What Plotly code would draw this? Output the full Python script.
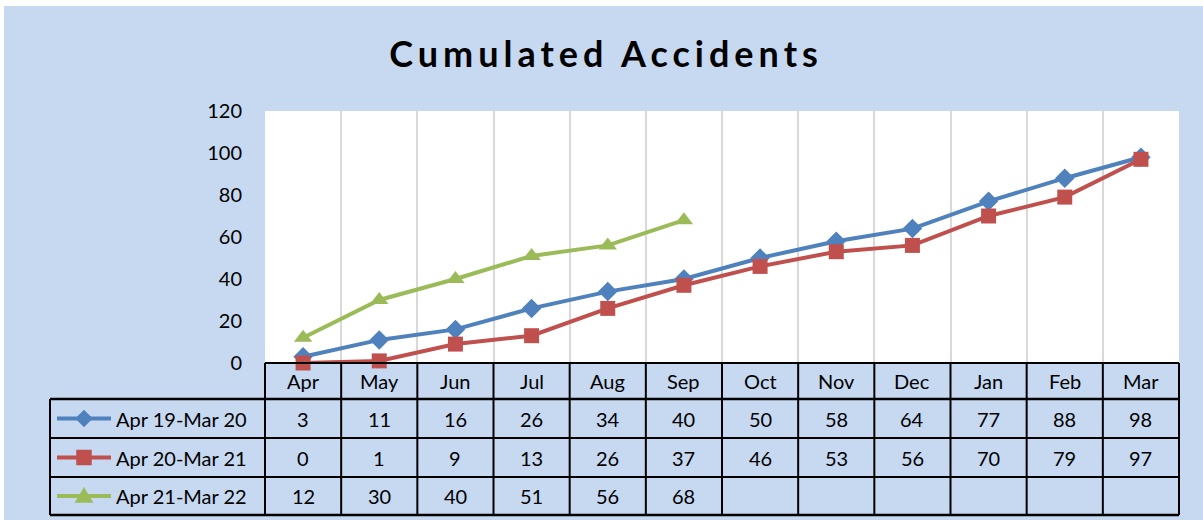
import plotly.graph_objects as go

months = ["Apr", "May", "Jun", "Jul", "Aug", "Sep", "Oct", "Nov", "Dec", "Jan", "Feb", "Mar"]
series_names = ["Apr 19-Mar 20", "Apr 20-Mar 21", "Apr 21-Mar 22"]
s1 = [3, 11, 16, 26, 34, 40, 50, 58, 64, 77, 88, 98]
s2 = [0, 1, 9, 13, 26, 37, 46, 53, 56, 70, 79, 97]
s3 = [12, 30, 40, 51, 56, 68, None, None, None, None, None, None]
y_ticks = [0, 20, 40, 60, 80, 100, 120]
title_text = "Cumulated Accidents"

colors = ["#4F81BD", "#C0504D", "#9BBB59"]
symbols = ["diamond", "square", "triangle-up"]
msizes = [15, 15, 16]
series = [s1, s2, s3]

FW, FH = 1203, 520
L, R, T, B = 265, 1179, 111, 363
W, H = R - L, B - T
FONT = "Lato"
TS = 20

def px_x(px):
    return (px - L) / W

def px_y(py):
    return (B - py) / H

fig = go.Figure()
for name, vals, c, sym, ms in zip(series_names, series, colors, symbols, msizes):
    fig.add_trace(go.Scatter(
        x=months, y=vals, name=name, mode="lines+markers",
        line=dict(color=c, width=4), marker=dict(symbol=sym, size=ms, color=c),
        cliponaxis=False, showlegend=False, connectgaps=False))

shapes = []
# background with thin white border
shapes.append(dict(type="rect", xref="paper", yref="paper", x0=px_x(4), x1=px_x(FW + 5),
                   y0=px_y(6), y1=px_y(FH + 5), fillcolor="#C6D9F1", line_width=0, layer="below"))
# plot area white
shapes.append(dict(type="rect", xref="paper", yref="paper", x0=0, x1=1, y0=0, y1=1,
                   fillcolor="white", line_width=0, layer="below"))

rows = [363, 399, 438, 477, 515]
leg_left = 50
n = len(months)
# horizontal lines
shapes.append(dict(type="line", xref="paper", yref="paper", x0=0, x1=1, y0=px_y(rows[0]), y1=px_y(rows[0]),
                   line=dict(color="black", width=2)))
for i, r in enumerate(rows[1:]):
    shapes.append(dict(type="line", xref="paper", yref="paper", x0=px_x(leg_left), x1=1,
                       y0=px_y(r), y1=px_y(r), line=dict(color="black", width=2.5 if i in (0, 3) else 1.8)))
# vertical lines
shapes.append(dict(type="line", xref="paper", yref="paper", x0=px_x(leg_left), x1=px_x(leg_left),
                   y0=px_y(rows[1]), y1=px_y(rows[-1]), line=dict(color="black", width=2)))
for k in range(n + 1):
    shapes.append(dict(type="line", xref="paper", yref="paper", x0=k / n, x1=k / n,
                       y0=px_y(rows[0]), y1=px_y(rows[-1]), line=dict(color="black", width=2)))

annotations = []
# header months
for i, m in enumerate(months):
    annotations.append(dict(xref="paper", yref="paper", x=(i + 0.5) / n,
                            y=px_y((rows[0] + rows[1]) / 2), text=m, showarrow=False,
                            font=dict(family=FONT, size=TS, color="black"), xanchor="center", yanchor="middle"))


def legend_marker(sym, cx, cy, color):
    # cx, cy in pixels; returns a path shape in paper coords
    if sym == "diamond":
        pts = [(cx, cy - 8.5), (cx + 8.5, cy), (cx, cy + 8.5), (cx - 8.5, cy)]
    elif sym == "square":
        pts = [(cx - 7.5, cy - 7.5), (cx + 7.5, cy - 7.5), (cx + 7.5, cy + 7.5), (cx - 7.5, cy + 7.5)]
    else:
        pts = [(cx, cy - 8.5), (cx + 9, cy + 6.5), (cx - 9, cy + 6.5)]
    path = "M " + " L ".join(f"{px_x(x):.5f},{px_y(y):.5f}" for x, y in pts) + " Z"
    return dict(type="path", xref="paper", yref="paper", path=path, fillcolor=color,
                line=dict(color=color, width=0.5))


# values
for si, vals in enumerate(series):
    ycp = (rows[si + 1] + rows[si + 2]) / 2
    yc = px_y(ycp)
    for i, v in enumerate(vals):
        if v is None:
            continue
        annotations.append(dict(xref="paper", yref="paper", x=(i + 0.5) / n, y=yc, text=str(v),
                                showarrow=False, font=dict(family=FONT, size=TS, color="black"),
                                xanchor="center", yanchor="middle"))
    # legend label
    annotations.append(dict(xref="paper", yref="paper", x=px_x(114), y=yc, text=series_names[si],
                            showarrow=False, font=dict(family=FONT, size=TS, color="black"),
                            xanchor="left", yanchor="middle"))
    # legend key line + marker
    shapes.append(dict(type="line", xref="paper", yref="paper", x0=px_x(57), x1=px_x(111), y0=yc, y1=yc,
                       line=dict(color=colors[si], width=4)))
    shapes.append(legend_marker(symbols[si], 84, ycp, colors[si]))

fig.update_layout(
    width=FW, height=FH,
    margin=dict(l=L, r=FW - R, t=T, b=FH - B, pad=0),
    paper_bgcolor="white", plot_bgcolor="rgba(0,0,0,0)",
    title=dict(text='<b><span style="letter-spacing:5px">' + title_text + '</span></b>',
               x=606 / FW, xanchor="center", y=1 - 54 / FH, yanchor="middle",
               xref="container", yref="container",
               font=dict(family=FONT, size=36, color="black")),
    xaxis=dict(type="category", categoryarray=months, range=[-0.5, n - 0.5], showticklabels=False,
               showgrid=True, gridcolor="#D9D9D9", gridwidth=2, tickson="boundaries", ticks="",
               showline=False, zeroline=False, fixedrange=True),
    yaxis=dict(range=[0, 120], tickvals=y_ticks, showgrid=False, zeroline=False, showline=False,
               ticks="", ticklabelstandoff=22, tickfont=dict(family=FONT, size=20, color="black")),
    shapes=shapes, annotations=annotations,
)

fig.write_html("out.html", config={"displayModeBar": False},
               post_script="document.body.style.margin='0';document.body.style.overflow='hidden';")
